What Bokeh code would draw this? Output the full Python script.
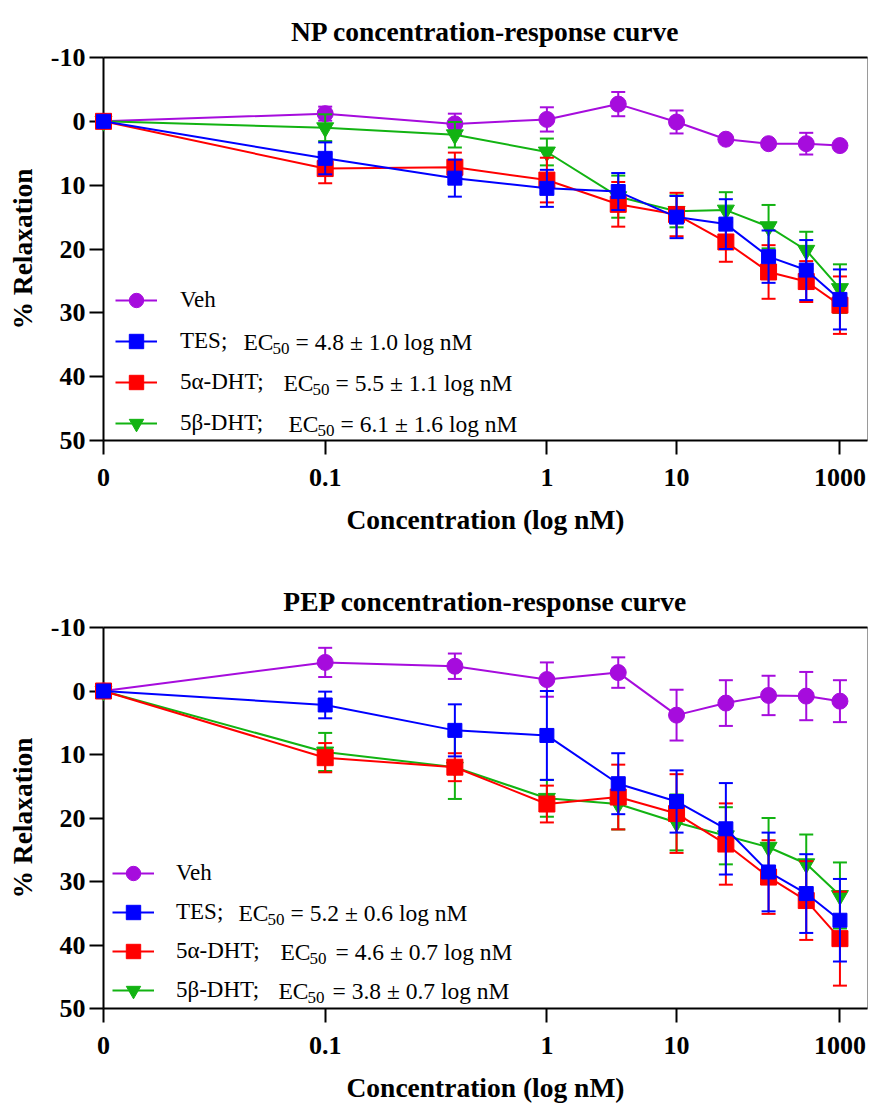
from bokeh.plotting import figure
from bokeh.models import (Range1d, FixedTicker, LogAxis, Legend, LegendItem, Label,
                          ColumnDataSource)
from bokeh.layouts import column
from bokeh.embed import file_html
from bokeh.resources import INLINE

# ---------------- data ----------------
dose_index = [1, 2, 3, 4, 5, 6, 7, 8, 9, 10]          # positions on the log-scaled x axis
tick_positions = [1, 2, 4, 6, 10]
tick_labels = ["0", "0.1", "1", "10", "1000"]
y_ticks = [-10, 0, 10, 20, 30, 40, 50]

series_names = ["Veh", "TES;", "5\u03b1-DHT;", "5\u03b2-DHT;"]

# NP
np_veh = [0, -1.2, 0.4, -0.3, -2.7, 0.1, 2.8, 3.5, 3.5, 3.8]
np_veh_err = [0, 1.1, 1.6, 1.9, 1.9, 1.8, 0.3, 0.3, 1.7, 0.3]
np_tes = [0, 5.8, 8.9, 10.5, 11.0, 15.0, 16.1, 21.2, 23.3, 27.9]
np_tes_err = [0, 2.5, 2.9, 2.9, 2.9, 3.3, 3.9, 4.1, 4.7, 4.7]
np_5a = [0, 7.4, 7.2, 9.2, 13.0, 14.6, 18.9, 23.6, 25.1, 28.8]
np_5a_err = [0, 2.3, 2.3, 3.5, 3.5, 3.4, 3.1, 4.2, 3.2, 4.5]
np_5b = [0, 1.0, 2.1, 4.8, 11.8, 14.1, 13.9, 16.5, 20.2, 26.2]
np_5b_err = [0, 2.1, 2.0, 2.1, 3.3, 2.5, 2.8, 3.4, 2.9, 3.8]
np_ec50 = [4.8, 5.5, 6.1]
np_ec50_sem = [1.0, 1.1, 1.6]

# PEP
pep_veh = [0, -4.5, -3.9, -1.8, -2.9, 3.8, 1.9, 0.7, 0.8, 1.6]
pep_veh_err = [0, 2.3, 2.0, 2.7, 2.4, 4.0, 3.6, 3.1, 3.8, 3.3]
pep_tes = [0, 2.2, 6.2, 7.0, 14.6, 17.4, 21.7, 28.5, 31.9, 36.1]
pep_tes_err = [0, 2.1, 4.1, 7.0, 4.8, 4.9, 7.2, 6.2, 6.2, 6.5]
pep_5a = [0, 10.5, 12.0, 17.8, 16.7, 19.3, 24.1, 29.3, 33.0, 39.0]
pep_5a_err = [0, 2.3, 2.2, 2.9, 5.1, 6.2, 6.4, 5.8, 6.2, 7.4]
pep_5b = [0, 9.6, 12.0, 16.9, 17.8, 20.7, 22.8, 24.6, 27.2, 32.2]
pep_5b_err = [0, 3.0, 5.0, 2.9, 4.0, 4.4, 4.5, 4.6, 4.6, 5.2]
pep_ec50 = [5.2, 4.6, 3.8]
pep_ec50_sem = [0.6, 0.7, 0.7]

# ---------------- style ----------------
FONT = "Liberation Serif"
PURPLE = "#A60CDD"
BLUE = "#0000FF"
RED = "#FF0000"
GREEN = "#12B312"


def add_series(p, ys, errs, color, marker, size):
    lo = [y - e for y, e in zip(ys, errs)]
    hi = [y + e for y, e in zip(ys, errs)]
    src = ColumnDataSource(dict(x=dose_index, y=ys, lo=lo, hi=hi))
    p.segment(x0="x", y0="lo", x1="x", y1="hi", source=src, line_color=color,
              line_width=2, level="overlay")
    for col in ("lo", "hi"):
        p.scatter(x="x", y=col, source=src, marker="dash", size=14, line_color=color,
                  line_width=2, level="overlay")
    ln = p.line(x="x", y="y", source=src, line_color=color, line_width=2, level="overlay")
    pts = p.scatter(x="x", y="y", source=src, marker=marker, size=size, fill_color=color,
                    line_color=color, level="overlay")
    return ln, pts


def build(title, data, ec50, sem, height, border_bottom, legend_loc, legend_spacing,
          standoff, ec_rows):
    p = figure(width=871, height=height, x_axis_type="log",
               x_range=Range1d(1, 10.9), y_range=Range1d(50, -10),
               output_backend="svg", toolbar_location=None, title=title,
               min_border_left=103, min_border_right=4, min_border_top=57,
               min_border_bottom=border_bottom)
    p.grid.visible = False
    p.outline_line_color = "#9a9a9a"
    p.outline_line_width = 1
    p.background_fill_color = "white"
    p.border_fill_color = "white"

    p.title.text_font = FONT
    p.title.text_font_style = "bold"
    p.title.text_font_size = "27.5px"
    p.title.text_color = "black"
    p.title.align = "center"
    p.title.standoff = 21

    xa = p.xaxis[0]
    xa.ticker = FixedTicker(ticks=tick_positions, minor_ticks=[])
    xa.major_label_overrides = {t: l for t, l in zip(tick_positions, tick_labels)}
    xa.axis_label = "Concentration (log nM)"
    ya = p.yaxis[0]
    ya.ticker = FixedTicker(ticks=y_ticks, minor_ticks=[])
    ya.major_label_overrides = {t: str(t) for t in y_ticks}
    ya.axis_label = "% Relaxation"
    for ax in (xa, ya):
        ax.axis_line_width = 2
        ax.axis_line_color = "black"
        ax.major_tick_line_width = 2
        ax.major_tick_line_color = "black"
        ax.major_tick_out = 14
        ax.major_tick_in = 0
        ax.minor_tick_line_color = None
        ax.major_label_text_font = FONT
        ax.major_label_text_font_style = "bold"
        ax.major_label_text_font_size = "26px"
        ax.major_label_text_color = "black"
        ax.axis_label_text_font = FONT
        ax.axis_label_text_font_style = "bold"
        ax.axis_label_text_font_size = "27.5px"
        ax.axis_label_text_color = "black"
    ya.major_label_standoff = 4
    ya.axis_label_standoff = 10
    xa.major_label_standoff = 14
    xa.axis_label_standoff = 15

    top = LogAxis(ticker=FixedTicker(ticks=[], minor_ticks=[]), axis_line_width=2,
                  axis_line_color="black", major_tick_line_color=None,
                  minor_tick_line_color=None, major_tick_out=0, major_tick_in=0,
                  major_label_standoff=0)
    p.add_layout(top, "above")

    specs = [(PURPLE, "circle", 16), (BLUE, "square", 14), (RED, "square", 16),
             (GREEN, "inverted_triangle", 17)]
    order = [0, 3, 2, 1]
    rends = {}
    for k in order:
        ys, errs = data[k]
        color, marker, size = specs[k]
        rends[k] = add_series(p, ys, errs, color, marker, size)

    items = [LegendItem(label=series_names[k], renderers=list(rends[k])) for k in range(4)]
    legend = Legend(items=items, location=legend_loc, orientation="vertical",
                    glyph_width=42, glyph_height=36, label_height=36,
                    label_standoff=standoff, spacing=legend_spacing, padding=0, margin=0,
                    border_line_color=None, background_fill_alpha=0,
                    label_text_font=FONT, label_text_font_size="23px",
                    label_text_color="black")
    p.add_layout(legend)

    for (ec_x, eq_x, y), v, s in zip(ec_rows, ec50, sem):
        common = dict(x_units="screen", y_units="screen", text_font=FONT,
                      text_color="black", text_baseline="middle", level="overlay")
        p.add_layout(Label(x=ec_x, y=y, text="EC", text_font_size="23.5px", **common))
        p.add_layout(Label(x=ec_x + 29, y=y - 7, text="50", text_font_size="17px", **common))
        p.add_layout(Label(x=eq_x, y=y, text=f"= {v:.1f} \u00b1 {s:.1f} log nM",
                           text_font_size="23.5px", **common))
    return p


np_data = [(np_veh, np_veh_err), (np_tes, np_tes_err), (np_5a, np_5a_err), (np_5b, np_5b_err)]
pep_data = [(pep_veh, pep_veh_err), (pep_tes, pep_tes_err), (pep_5a, pep_5a_err),
            (pep_5b, pep_5b_err)]

p1 = build("NP concentration-response curve", np_data, np_ec50, np_ec50_sem,
           570, 130, (12, -1), 5, 23,
           [(140, 192, 99), (180, 232, 58), (185, 237, 17)])
p2 = build("PEP concentration-response curve", pep_data, pep_ec50, pep_ec50_sem,
           537, 99, (9, 0), 3, 22,
           [(135, 187, 96), (177, 232, 57), (175, 229, 18)])

layout = column(p1, p2, spacing=0)
open("out.html", "w").write(file_html(layout, INLINE))
